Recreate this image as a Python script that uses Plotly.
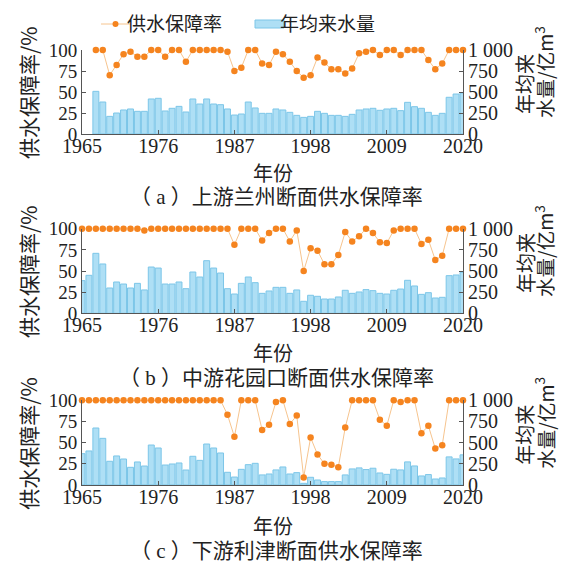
import plotly.graph_objects as go

W, H = 577, 564

# ---------------- data ----------------
years_a = list(range(1967, 2021))
years_bc = list(range(1965, 2021))

rate_a = [100, 100, 70, 82, 95, 98, 92, 92, 100, 100,
          92, 100, 100, 86, 100, 100, 100, 100, 100, 98,
          75, 79, 100, 100,
          84, 82, 98, 95, 86, 75, 67, 70, 91, 85,
          77, 77, 72, 78, 96, 98, 100, 94, 100, 100,
          94, 100, 100, 100, 88, 77, 84, 100, 100, 100]
flow_a = [508, 381, 210, 250, 286, 298, 270, 270, 417, 425,
          274, 306, 329, 262, 417, 357, 417, 357, 349, 298,
          226, 238, 381, 310,
          246, 246, 298, 286, 258, 222, 198, 210, 270, 246,
          222, 222, 210, 234, 286, 298, 306, 282, 298, 306,
          278, 377, 325, 306, 258, 222, 246, 437, 476, 488]

rate_b = [100, 100, 100, 100, 100, 100, 100, 100, 100, 98,
          100, 100, 100, 100, 100, 100, 100, 100, 100, 100,
          100, 100, 81, 100, 100, 100,
          86, 95, 100, 100, 85, 98, 50, 77, 74, 58,
          58, 69, 96, 85, 91, 100, 95, 84, 83, 98,
          100, 100, 100, 82, 87, 63, 68, 100, 100, 100]
flow_b = [386, 449, 709, 583, 299, 370, 346, 299, 354, 276,
          547, 535, 346, 346, 370, 291, 488, 429, 622, 535,
          476, 291, 228, 354, 429, 362,
          236, 264, 307, 307, 236, 276, 142, 213, 201, 169,
          169, 193, 272, 236, 252, 280, 268, 236, 228, 272,
          287, 390, 323, 224, 244, 181, 189, 445, 453, 484]

rate_c = [100, 100, 100, 100, 100, 100, 100, 100, 100, 100,
          100, 100, 100, 100, 100, 100, 100, 100, 100, 100,
          100, 83, 57, 100, 100, 100,
          65, 71, 98, 100, 72, 82, 9, 56, 36, 25,
          24, 21, 68, 100, 100, 100, 100, 77, 70, 100,
          98, 100, 100, 61, 70, 43, 47, 100, 100, 100]
flow_c = [370, 402, 673, 551, 280, 343, 307, 209, 272, 224,
          472, 437, 236, 248, 260, 177, 339, 291, 484, 437,
          378, 150, 94, 185, 240, 256,
          119, 130, 178, 213, 130, 146, 20, 91, 59, 40,
          40, 40, 119, 190, 202, 182, 198, 142, 126, 186,
          178, 273, 225, 107, 123, 71, 83, 332, 308, 356]

x_ticks = [1965, 1976, 1987, 1998, 2009, 2020]
rate_ticks = [0, 25, 50, 75, 100]
flow_ticks = [0, 250, 500, 750, 1000]
flow_ticktext = ["0", "250", "500", "750", "1 000"]

caption_letters = ["a", "b", "c"]
caption_texts = ["上游兰州断面供水保障率",
                 "中游花园口断面供水保障率",
                 "下游利津断面供水保障率"]
x_title = "年份"
left_title = "供水保障率/%"
right_title_1 = "年均来"
right_title_2 = "水量/亿m<sup>3</sup>"
legend_line = "供水保障率"
legend_bar = "年均来水量"

# ---------------- style ----------------
SERIF = "Times New Roman"
CJK = "Noto Sans CJK SC"
BAR_FILL = "#AEDFF5"
BAR_EDGE = "#7CC6E8"
LINE_C = "#F6C48E"
MARK_C = "#F5841F"
AXIS_C = "#555555"
TXT_C = "#222222"


def px(x):
    return x / W


def py(y):
    return 1 - y / H


x_dom = [px(74), px(455)]
panels_px = [(42, 126), (220.7, 305.3), (392.3, 477)]
cap_gap = [61, 63, 64]
xt_gap = [38, 39, 40]

fig = go.Figure()
datasets = [(years_a, rate_a, flow_a), (years_bc, rate_b, flow_b), (years_bc, rate_c, flow_c)]

annotations = []


def ann(x, y, text, size, family=CJK, angle=0, xa="center", ya="middle"):
    annotations.append(dict(x=px(x), y=py(y), xref="paper", yref="paper", text=text,
                            showarrow=False, textangle=angle, xanchor=xa, yanchor=ya,
                            font=dict(family=family, size=size, color=TXT_C)))


for i, (yrs, rate, flow) in enumerate(datasets):
    xa = "x" if i == 0 else f"x{i+1}"
    yb = "y" if i == 0 else f"y{2*i+1}"
    yl = f"y{2*i+2}"
    fig.add_trace(go.Bar(x=yrs, y=flow, xaxis=xa, yaxis=yb, width=0.86,
                         marker=dict(color=BAR_FILL, line=dict(color=BAR_EDGE, width=1)),
                         showlegend=False, hoverinfo="skip"))
    fig.add_trace(go.Scatter(x=yrs, y=rate, xaxis=xa, yaxis=yl, mode="lines+markers",
                             line=dict(color=LINE_C, width=1),
                             marker=dict(color=MARK_C, size=6.5),
                             cliponaxis=False, showlegend=False, hoverinfo="skip"))
    top, bot = panels_px[i]
    dom = [py(bot), py(top)]
    xkey = "xaxis" if i == 0 else f"xaxis{i+1}"
    ybkey = "yaxis" if i == 0 else f"yaxis{2*i+1}"
    ylkey = f"yaxis{2*i+2}"
    common = dict(showline=True, linecolor=AXIS_C, linewidth=1, ticks="inside",
                  ticklen=4, tickcolor=AXIS_C, showgrid=False, zeroline=False,
                  automargin=False)
    fig.layout[xkey] = dict(domain=x_dom, anchor=yb, range=[1965, 2020],
                            tickmode="array", tickvals=x_ticks, ticklabelstandoff=-6,
                            tickfont=dict(family=SERIF, size=20, color=TXT_C), **common)
    fig.layout[ybkey] = dict(domain=dom, anchor=xa, side="right", range=[0, 1000],
                             tickmode="array", tickvals=flow_ticks, ticktext=flow_ticktext,
                             tickfont=dict(family=SERIF, size=20, color=TXT_C), **common)
    fig.layout[ylkey] = dict(overlaying=yb, anchor=xa, side="left", range=[0, 100],
                             tickmode="array", tickvals=rate_ticks,
                             tickfont=dict(family=SERIF, size=19, color=TXT_C), **common)

    mid = (top + bot) / 2
    ann(264.5, bot + xt_gap[i], x_title, 20)
    cap = ("（<span style='font-family:Times New Roman'> " + caption_letters[i] +
           " </span>）" + caption_texts[i])
    ann(268, bot + cap_gap[i], cap, 21)
    ann(20, mid + 1, left_title, 21, angle=-90)
    ann(517, mid + 24, right_title_1, 20, angle=-90, ya="bottom")
    ann(536, mid + 28, right_title_2, 19.5, angle=-90, ya="bottom")

# legend (drawn manually)
ann(117, 15, legend_line, 19, xa="left")
ann(270, 15, legend_bar, 19, xa="left")
shapes = [
    dict(type="line", xref="paper", yref="paper", x0=px(93), x1=px(122), y0=py(16), y1=py(16),
         line=dict(color=LINE_C, width=1)),
    dict(type="circle", xref="paper", yref="paper", x0=px(104.5), x1=px(110.5), y0=py(13), y1=py(19),
         fillcolor=MARK_C, line=dict(color=MARK_C, width=0)),
    dict(type="rect", xref="paper", yref="paper", x0=px(247), x1=px(276), y0=py(12), y1=py(20),
         fillcolor=BAR_FILL, line=dict(color=BAR_EDGE, width=1)),
]

fig.update_layout(width=W, height=H, margin=dict(l=0, r=0, t=0, b=0),
                  paper_bgcolor="white", plot_bgcolor="white",
                  showlegend=False, annotations=annotations, shapes=shapes,
                  font=dict(family=CJK, color=TXT_C))

fig.write_html("out.html")
